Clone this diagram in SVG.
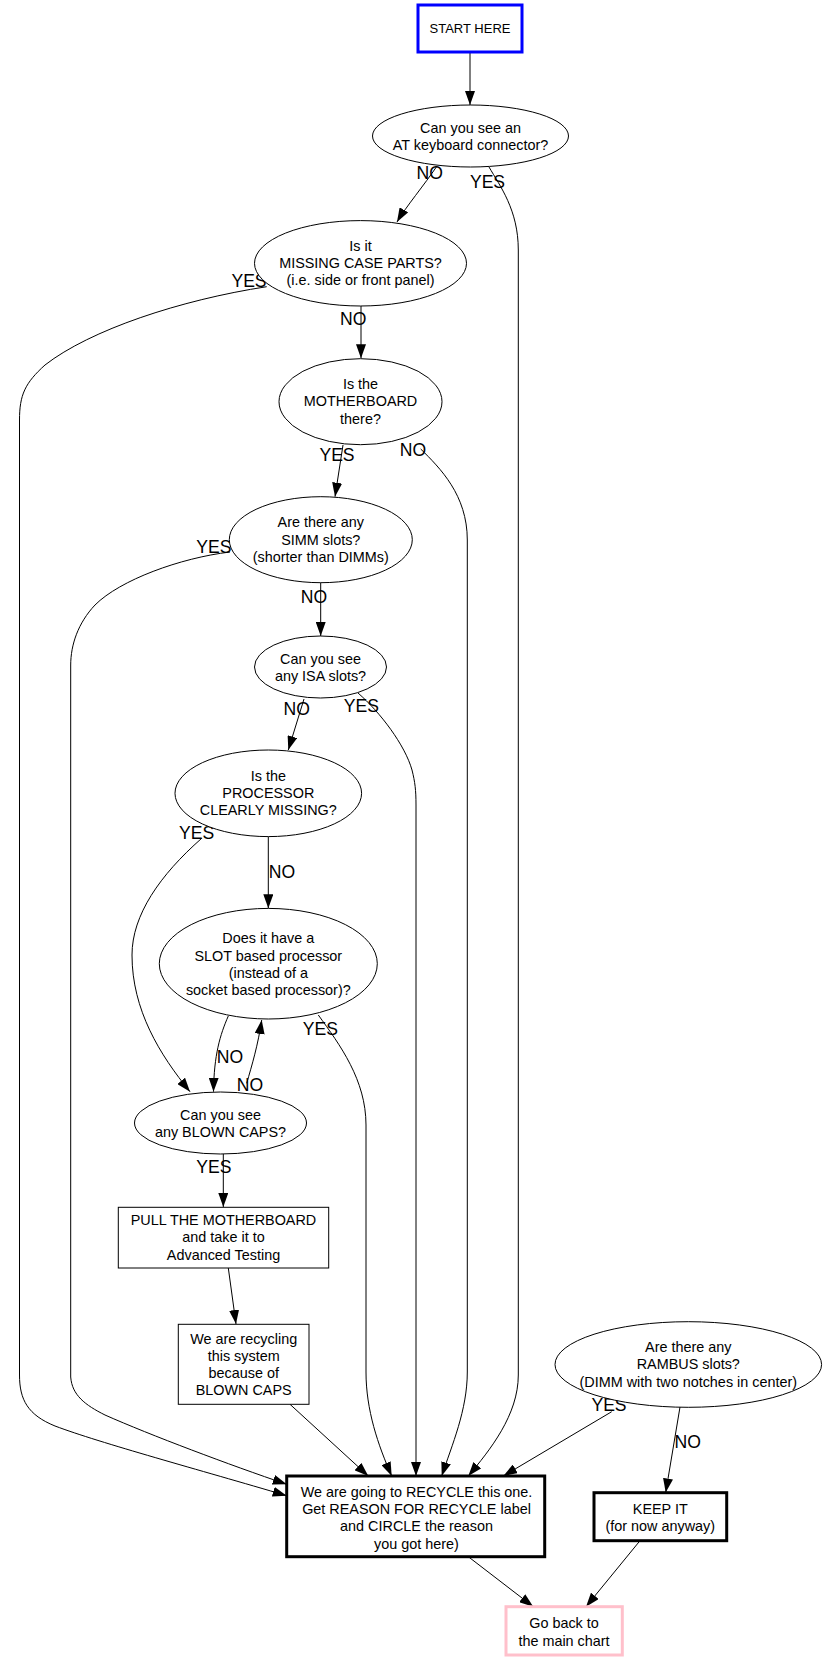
<svg xmlns="http://www.w3.org/2000/svg" width="827" height="1661" viewBox="0 0 827 1661">
<defs>
<marker id="arr" markerUnits="userSpaceOnUse" markerWidth="14" markerHeight="10" refX="14" refY="5" orient="auto">
<path d="M0,0 L14,5 L0,10 z" fill="#000"/>
</marker>
<style>
.bg{fill:#fff}
.n{fill:#fff;stroke:#000;stroke-width:1}
.thick{fill:#fff;stroke:#000;stroke-width:3}
.t{font-family:"Liberation Sans",Arial,sans-serif;font-size:14.4px;fill:#000;text-anchor:middle}
.l{font-family:"Liberation Sans",Arial,sans-serif;font-size:17.6px;fill:#000;text-anchor:middle}
.e{fill:none;stroke:#000;stroke-width:1;marker-end:url(#arr)}
</style>
</defs>
<rect class="bg" x="0" y="0" width="827" height="1661"/>

<g id="connectors">
<path class="e" d="M470,53 L470,105"/>
<path class="e" d="M437,166 C 425,184 405,208 397,222"/>
<path class="e" d="M489,167 C 500,186 518.3,210 518.3,250 L518.3,1375 C 518.3,1415 490,1450 468.3,1476"/>
<path class="e" d="M361,306 L361,358.3"/>
<path class="e" d="M266.7,286.7 C 180,300 90,330 45,365 C 25,383 19.5,395 19.5,420 L19.5,1375 C 19.5,1400 28,1415 55,1426 C 100,1443 200,1470 286.7,1495.7"/>
<path class="e" d="M343,445 L335,496.7"/>
<path class="e" d="M420.7,449 C 440,468 467.3,495 467.3,540 L467.3,1372 C 467.3,1410 452,1445 441.7,1476"/>
<path class="e" d="M320.7,582.7 L320.7,636"/>
<path class="e" d="M230,552 C 180,558 120,580 95,605 C 78,623 70.7,645 70.7,665 L70.7,1377 C 72,1395 85,1405 105,1415 C 150,1435 230,1465 286.7,1484.3"/>
<path class="e" d="M304,699 L288.3,750"/>
<path class="e" d="M358,693 C 380,712 405,745 412,770 C 415,782 416,790 416,805 L416,1476"/>
<path class="e" d="M268.3,836.7 L268.3,908.3"/>
<path class="e" d="M201.7,838.3 C 160,875 132,915 132,955 C 132,1010 160,1055 190,1091.7"/>
<path class="e" d="M228.3,1016 C 220,1035 214,1055 213.5,1091.7"/>
<path class="e" d="M246.7,1083.3 C 252,1065 258,1045 261.7,1020"/>
<path class="e" d="M318.3,1015 C 340,1045 366,1080 366,1125 L366,1372 C 366,1410 378,1445 391.7,1476"/>
<path class="e" d="M223.3,1154 L223.3,1207"/>
<path class="e" d="M228.3,1268 L236,1324"/>
<path class="e" d="M290,1404.3 L368.3,1476"/>
<path class="e" d="M611.7,1411.7 L503.3,1476"/>
<path class="e" d="M680,1407 L665.7,1492.5"/>
<path class="e" d="M468.3,1556.7 L533.3,1606.7"/>
<path class="e" d="M640,1540.7 L586,1606.7"/>

<text class="l" x="429.7" y="179">NO</text>
<text class="l" x="487.5" y="188">YES</text>
<text class="l" x="249" y="286.7">YES</text>
<text class="l" x="353.3" y="325">NO</text>
<text class="l" x="337" y="460.7">YES</text>
<text class="l" x="413" y="456">NO</text>
<text class="l" x="213.8" y="552.7">YES</text>
<text class="l" x="314" y="603.3">NO</text>
<text class="l" x="296.7" y="715">NO</text>
<text class="l" x="361.3" y="711.7">YES</text>
<text class="l" x="196.7" y="838.7">YES</text>
<text class="l" x="282" y="878.3">NO</text>
<text class="l" x="320.3" y="1035">YES</text>
<text class="l" x="230" y="1062.7">NO</text>
<text class="l" x="250" y="1090.7">NO</text>
<text class="l" x="213.8" y="1172.7">YES</text>
<text class="l" x="609" y="1410.7">YES</text>
<text class="l" x="687.8" y="1448.3">NO</text>
</g>

<g id="start">
<rect x="418" y="5" width="104" height="47" fill="#fff" stroke="#0000ff" stroke-width="3"/>
<text class="t" x="470" y="32.7" style="font-size:13px">START HERE</text>
</g>

<g id="q_at">
<ellipse class="n" cx="470.5" cy="136" rx="98" ry="31"/>
<text class="t" x="470.5" y="132.5">Can you see an</text>
<text class="t" x="470.5" y="150">AT keyboard connector?</text>
</g>

<g id="q_case">
<ellipse class="n" cx="360.5" cy="263.3" rx="106" ry="42.7"/>
<text class="t" x="360.5" y="250.7">Is it</text>
<text class="t" x="360.5" y="267.8">MISSING CASE PARTS?</text>
<text class="t" x="360.5" y="285.2">(i.e. side or front panel)</text>
</g>

<g id="q_mb">
<ellipse class="n" cx="360.5" cy="401.7" rx="81.5" ry="43"/>
<text class="t" x="360.5" y="388.8">Is the</text>
<text class="t" x="360.5" y="406.2">MOTHERBOARD</text>
<text class="t" x="360.5" y="423.6">there?</text>
</g>

<g id="q_simm">
<ellipse class="n" cx="320.8" cy="539.7" rx="91.5" ry="43"/>
<text class="t" x="320.8" y="527.2">Are there any</text>
<text class="t" x="320.8" y="544.5">SIMM slots?</text>
<text class="t" x="320.8" y="562">(shorter than DIMMs)</text>
</g>

<g id="q_isa">
<ellipse class="n" cx="320.5" cy="667" rx="66" ry="31"/>
<text class="t" x="320.5" y="663.5">Can you see</text>
<text class="t" x="320.5" y="680.7">any ISA slots?</text>
</g>

<g id="q_cpu">
<ellipse class="n" cx="268.3" cy="793.3" rx="93.3" ry="43.3"/>
<text class="t" x="268.3" y="780.6">Is the</text>
<text class="t" x="268.3" y="797.9">PROCESSOR</text>
<text class="t" x="268.3" y="815.2">CLEARLY MISSING?</text>
</g>

<g id="q_slot">
<ellipse class="n" cx="268.3" cy="963.7" rx="109" ry="55.3"/>
<text class="t" x="268.3" y="943.3">Does it have a</text>
<text class="t" x="268.3" y="960.6">SLOT based processor</text>
<text class="t" x="268.3" y="977.9">(instead of a</text>
<text class="t" x="268.3" y="995.2">socket based processor)?</text>
</g>

<g id="q_caps">
<ellipse class="n" cx="220.5" cy="1123" rx="86" ry="31"/>
<text class="t" x="220.5" y="1119.5">Can you see</text>
<text class="t" x="220.5" y="1136.6">any BLOWN CAPS?</text>
</g>

<g id="pull">
<rect class="n" x="118.3" y="1207.3" width="210.4" height="60.7"/>
<text class="t" x="223.5" y="1224.7">PULL THE MOTHERBOARD</text>
<text class="t" x="223.5" y="1242.4">and take it to</text>
<text class="t" x="223.5" y="1259.6">Advanced Testing</text>
</g>

<g id="because_caps">
<rect class="n" x="178.3" y="1324.3" width="130.7" height="80"/>
<text class="t" x="243.7" y="1343.6">We are recycling</text>
<text class="t" x="243.7" y="1361">this system</text>
<text class="t" x="243.7" y="1378.3">because of</text>
<text class="t" x="243.7" y="1395.4">BLOWN CAPS</text>
</g>

<g id="q_rambus">
<ellipse class="n" cx="688.3" cy="1364.5" rx="133.3" ry="42.8"/>
<text class="t" x="688.3" y="1352">Are there any</text>
<text class="t" x="688.3" y="1369.4">RAMBUS slots?</text>
<text class="t" x="688.3" y="1386.8">(DIMM with two notches in center)</text>
</g>

<g id="recycle">
<rect class="thick" x="286.7" y="1476" width="258" height="80.7"/>
<text class="t" x="416.5" y="1496.6">We are going to RECYCLE this one.</text>
<text class="t" x="416.5" y="1514">Get REASON FOR RECYCLE label</text>
<text class="t" x="416.5" y="1531.4">and CIRCLE the reason</text>
<text class="t" x="416.5" y="1548.8">you got here)</text>
</g>

<g id="keep">
<rect class="thick" x="594" y="1492.7" width="132.7" height="48"/>
<text class="t" x="660.3" y="1513.5">KEEP IT</text>
<text class="t" x="660.3" y="1531">(for now anyway)</text>
</g>

<g id="goback">
<rect x="506" y="1606.7" width="116.3" height="48.3" fill="#fff" stroke="#ffc0cb" stroke-width="3"/>
<text class="t" x="564" y="1628.4">Go back to</text>
<text class="t" x="564" y="1645.8">the main chart</text>
</g>
</svg>
